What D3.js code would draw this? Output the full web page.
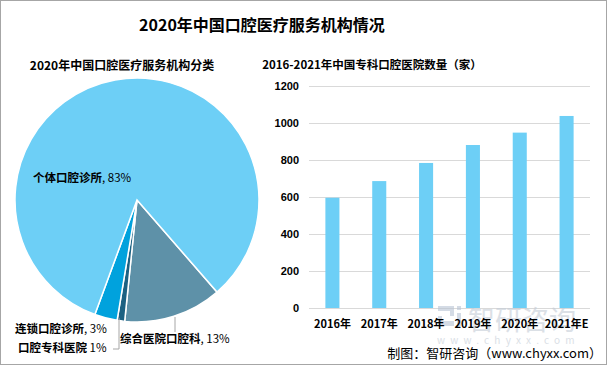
<!DOCTYPE html>
<html>
<head>
<meta charset="utf-8">
<script src="https://cdn.jsdelivr.net/npm/d3@7"></script>
<style>
  body { margin: 0; background: #fff; }
  text { font-family: "Noto Sans CJK SC", "Noto Sans", sans-serif; }
</style>
</head>
<body>
<div id="chart"></div>
<script>
// Data
const pieNames = ["综合医院口腔科", "口腔专科医院", "连锁口腔诊所", "个体口腔诊所"];
const pieValues = [13, 1, 3, 83];
const pieColors = ["#5E91A8", "#1C6182", "#00A2DD", "#6DCFF6"];

const years = ["2016年", "2017年", "2018年", "2019年", "2020年", "2021年E"];
const counts = [596, 686, 784, 881, 948, 1038];
const yTicks = [0, 200, 400, 600, 800, 1000, 1200];

let width = 607;
let height = 367;

let svg = d3.select("#chart")
    .append("svg")
    .attr("width", width)
    .attr("height", height);

// outer border
svg.append("rect")
    .attr("x", 0.5).attr("y", 0.5)
    .attr("width", width - 1).attr("height", height - 3)
    .attr("fill", "#fff")
    .attr("stroke", "#A6A6A6");

// titles
svg.append("text")
    .attr("x", 262).attr("y", 31)
    .attr("text-anchor", "middle")
    .attr("font-size", 16).attr("font-weight", "bold")
    .text("2020年中国口腔医疗服务机构情况");

svg.append("text")
    .attr("x", 122).attr("y", 70)
    .attr("text-anchor", "middle")
    .attr("font-size", 12).attr("font-weight", "bold")
    .text("2020年中国口腔医疗服务机构分类");

svg.append("text")
    .attr("x", 372).attr("y", 69)
    .attr("text-anchor", "middle")
    .attr("font-size", 11.5).attr("font-weight", "bold")
    .text("2016-2021年中国专科口腔医院数量（家）");

// ---------- Pie ----------
const cx = 137, cy = 200, r = 122;
const startA = 139 * Math.PI / 180;
let pie = d3.pie().sort(null).value(d => d)
    .startAngle(startA).endAngle(startA + 2 * Math.PI);
let arcs = pie(pieValues);
let arc = d3.arc().innerRadius(0).outerRadius(r);

let pieG = svg.append("g").attr("transform", `translate(${cx},${cy})`);
pieG.selectAll("path")
    .data(arcs)
    .enter()
    .append("path")
    .attr("d", arc)
    .attr("fill", (d, i) => pieColors[i])
    .attr("stroke", "#fff")
    .attr("stroke-width", 1.5);

// leader lines
svg.append("polyline")
    .attr("points", "119,318 119,349 113,349")
    .attr("fill", "none").attr("stroke", "#A6A6A6");
svg.append("line")
    .attr("x1", 175).attr("y1", 317).attr("x2", 175).attr("y2", 332)
    .attr("stroke", "#A6A6A6");

// pie labels
const pieLabels = [
    { i: 3, x: 33, y: 182 },
    { i: 2, x: 15, y: 333 },
    { i: 1, x: 18, y: 352, sep: " " },
    { i: 0, x: 120, y: 343 }
];
pieLabels.forEach(l => {
    let t = svg.append("text")
        .attr("x", l.x).attr("y", l.y)
        .attr("font-size", 11.5);
    t.append("tspan").attr("font-weight", "bold").text(pieNames[l.i]);
    t.append("tspan").text((l.sep || ", ") + pieValues[l.i] + "%");
});

// ---------- Bars ----------
const plot = { left: 309, right: 590, top: 86, bottom: 308 };

let x = d3.scaleBand()
    .domain(years)
    .range([plot.left, plot.right])
    .paddingInner(0.7)
    .paddingOuter(0.35);

let y = d3.scaleLinear()
    .domain([0, 1200])
    .range([plot.bottom, plot.top]);

// gridlines
svg.append("g")
    .selectAll("line")
    .data(yTicks)
    .enter()
    .append("line")
    .attr("x1", plot.left).attr("x2", plot.right)
    .attr("y1", d => y(d) + 0.5).attr("y2", d => y(d) + 0.5)
    .attr("stroke", "#D9D9D9");

// y labels
let yAxis = svg.append("g")
    .attr("transform", `translate(${plot.left - 4},0)`)
    .call(d3.axisLeft(y).tickValues(yTicks).tickFormat(d3.format("d")).tickSize(0).tickPadding(6));
yAxis.select(".domain").remove();
yAxis.selectAll("text")
    .attr("font-size", 11).attr("font-weight", "bold")
    .attr("fill", "#000")
    .style("font-family", "'Liberation Sans', sans-serif");

// watermark logo (faint)
let wm = svg.append("g").attr("opacity", 0.6);
wm.append("path")
    .attr("d", "M438,306 h16 v10 h-12 v5 h12 v5 h-16 v-10 h12 v-5 h-12 z M457,306 h4 v4 h-4 z M457,313 h4 v13 h-4 z")
    .attr("fill", "#B8C4D4");
wm.append("text")
    .attr("x", 468).attr("y", 330)
    .attr("font-size", 27)
    .attr("fill", "#C4CCD6")
    .text("智研咨询");
wm.append("text")
    .attr("x", 437).attr("y", 344)
    .attr("font-size", 10)
    .attr("letter-spacing", 5.2)
    .attr("fill", "#C4CCD6")
    .text("www.chyxx.com");

// bars
svg.append("g")
    .selectAll("rect")
    .data(counts)
    .enter()
    .append("rect")
    .attr("x", (d, i) => x(years[i]))
    .attr("y", d => y(d))
    .attr("width", x.bandwidth())
    .attr("height", d => y(0) - y(d))
    .attr("fill", "#6DCFF6");

// x labels
let xAxis = svg.append("g")
    .attr("transform", `translate(0,${plot.bottom})`)
    .call(d3.axisBottom(x).tickSize(0).tickPadding(12));
xAxis.select(".domain").remove();
xAxis.selectAll("text")
    .attr("font-size", 11).attr("font-weight", "bold")
    .attr("fill", "#000");

// source
svg.append("text")
    .attr("x", 602).attr("y", 358)
    .attr("text-anchor", "end")
    .attr("font-size", 13)
    .text("制图：智研咨询（www.chyxx.com）");
</script>
</body>
</html>
